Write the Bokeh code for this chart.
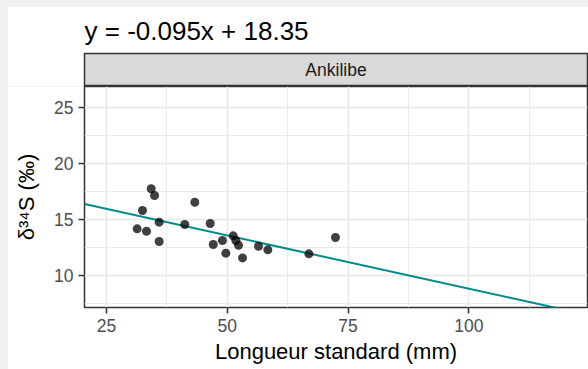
from bokeh.plotting import figure
from bokeh.models import Range1d, FixedTicker
from bokeh.layouts import column
from bokeh.embed import file_html
from bokeh.resources import INLINE
from bokeh.core.properties import value

# ---- data ----
panel_name = ["Ankilibe"]
length_mm = [34.25, 34.94, 32.45, 35.9, 31.35, 33.28, 35.9, 43.28, 41.2, 46.47,
             47.1, 49.0, 49.7, 51.23, 51.77, 52.33, 53.16, 56.47, 58.4, 66.9, 72.4]
d34s = [17.77, 17.17, 15.83, 14.79, 14.19, 13.98, 13.06, 16.57, 14.58, 14.67,
        12.79, 13.15, 12.02, 13.57, 13.15, 12.73, 11.6, 12.64, 12.32, 11.96, 13.42]
slope = -0.095
intercept = 18.35
x_ticks = [25, 50, 75, 100]
x_minor = [37.5, 62.5, 87.5, 112.5]
y_ticks = [10, 15, 20, 25]
y_minor = [7.5, 12.5, 17.5, 22.5]
x_limits = (20.446, 124.57)
y_limits = (7.17, 26.9)
title_text = "y = -0.095x + 18.35"
x_label = "Longueur standard (mm)"
y_label = "δ³⁴S (‰)"

FONT = "Liberation Sans"
W = 581
ML, MR = 77, 1

# ---- strip (facet label) with title ----
fa = figure(width=W, height=80, x_range=Range1d(0, 1), y_range=Range1d(0, 1),
            output_backend="svg", toolbar_location=None,
            x_axis_location=None, y_axis_location=None,
            min_border_left=ML, min_border_right=MR, min_border_top=46, min_border_bottom=0,
            margin=(6, 0, 0, 7))
fa.grid.visible = False
fa.background_fill_color = "#d9d9d9"
fa.border_fill_color = "white"
fa.outline_line_color = "#333333"
fa.outline_line_width = 1.5
fa.text(x=[0.5], y=[0.5], text=panel_name, text_align="center", text_baseline="middle",
        text_font=value(FONT), text_font_size="17.5px", text_color="#1a1a1a")
fa.title.text = title_text
fa.title.text_font = FONT
fa.title.text_font_size = "26px"
fa.title.text_font_style = "normal"
fa.title.text_color = "black"
fa.title.align = "left"
fa.title.standoff = 15

# ---- main panel ----
fb = figure(width=W, height=283, x_range=Range1d(*x_limits), y_range=Range1d(*y_limits),
            output_backend="svg", toolbar_location=None,
            min_border_left=ML, min_border_right=MR, min_border_top=0, min_border_bottom=62,
            margin=(0, 0, 0, 7))
fb.background_fill_color = "white"
fb.border_fill_color = "white"
fb.outline_line_color = "#333333"
fb.outline_line_width = 1.5

fb.xaxis.ticker = FixedTicker(ticks=x_ticks, minor_ticks=x_minor)
fb.yaxis.ticker = FixedTicker(ticks=y_ticks, minor_ticks=y_minor)
fb.xaxis.axis_label = x_label
fb.yaxis.axis_label = y_label
for ax in (fb.xaxis[0], fb.yaxis[0]):
    ax.axis_line_color = None
    ax.major_tick_line_color = "#333333"
    ax.major_tick_line_width = 1.5
    ax.major_tick_out = 6
    ax.major_tick_in = 0
    ax.minor_tick_line_color = None
    ax.major_label_text_font = FONT
    ax.major_label_text_font_size = "17.5px"
    ax.major_label_text_color = "#4d4d4d"
    ax.major_label_standoff = 5
    ax.axis_label_text_font = FONT
    ax.axis_label_text_font_size = "22px"
    ax.axis_label_text_font_style = "normal"
    ax.axis_label_text_color = "black"
fb.xaxis.axis_label_standoff = 4
fb.yaxis.axis_label_standoff = 12

for g in (fb.xgrid[0], fb.ygrid[0]):
    g.grid_line_color = "#ebebeb"
    g.grid_line_width = 1.8
    g.minor_grid_line_color = "#ebebeb"
    g.minor_grid_line_width = 1

line_x = list(x_limits)
line_y = [slope * v + intercept for v in line_x]
fb.line(line_x, line_y, line_color="#008b8b", line_width=2)
fb.scatter(length_mm, d34s, size=9, fill_color="black", fill_alpha=0.75, line_color=None)

layout = column(fa, fb, spacing=0, styles={"background-color": "#f0f0f0"})

open("out.html", "w").write(file_html(layout, INLINE))
